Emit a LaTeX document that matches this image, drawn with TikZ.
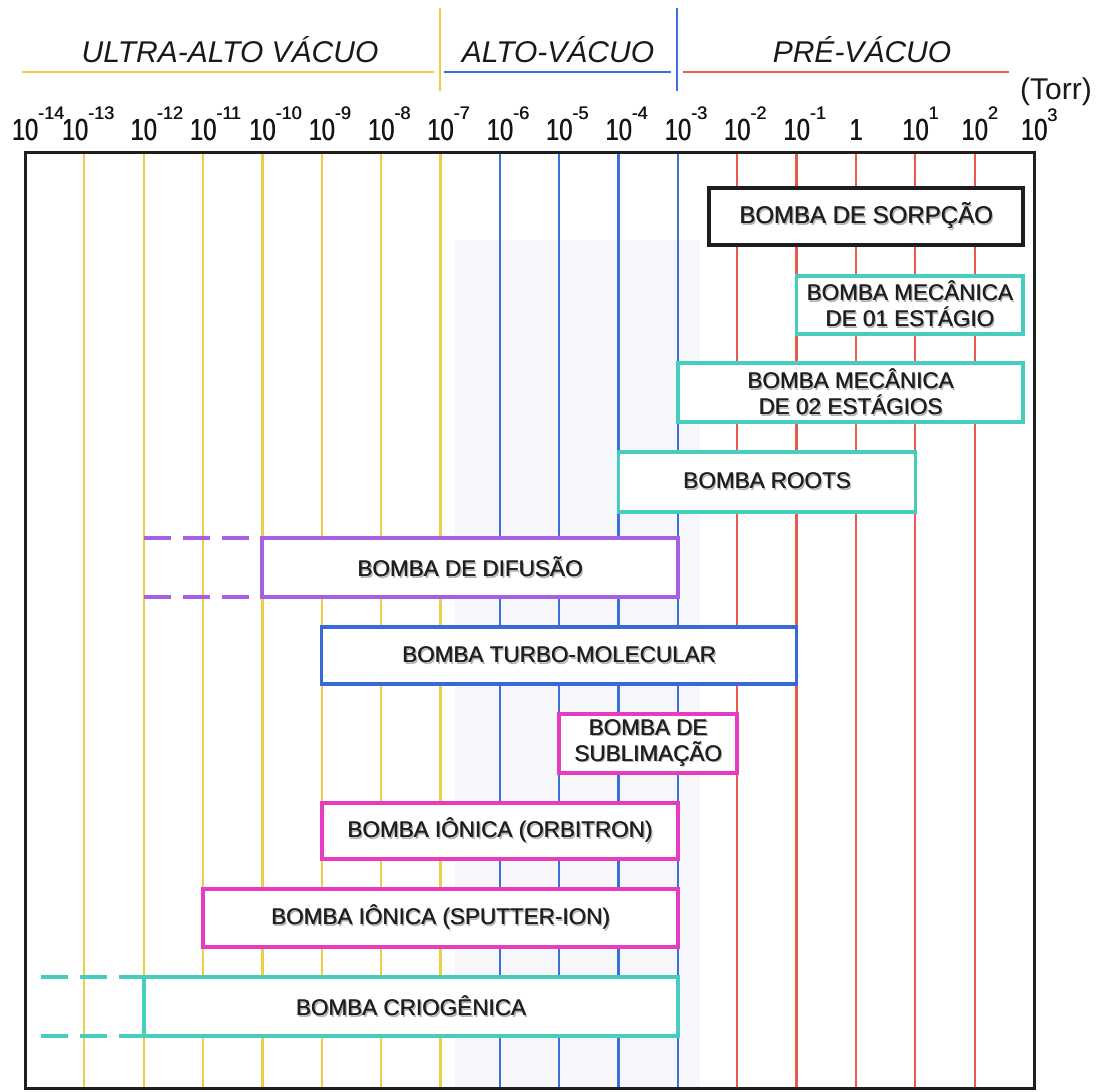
\documentclass[tikz,border=0pt]{standalone}
\usepackage{fontspec}
\setmainfont{Liberation Sans}
\usepackage{graphicx}
\definecolor{cyel}{RGB}{240,205,70}
\definecolor{cblu}{RGB}{60,110,220}
\definecolor{cred}{RGB}{235,90,80}
\definecolor{cteal}{RGB}{70,205,190}
\definecolor{cpurp}{RGB}{165,95,225}
\definecolor{cmag}{RGB}{230,60,195}
\definecolor{cturbo}{RGB}{55,105,215}
\definecolor{cframe}{RGB}{30,30,30}
\definecolor{cshade}{RGB}{245,247,251}
\newcommand\thk[1]{\makebox[0pt][l]{\hspace{0.5pt}#1}#1}
\newcommand\tenlab[1]{\thk{\scalebox{0.78}[1]{10}}\makebox[0pt][l]{\raisebox{21pt}{\fontsize{18}{18}\selectfont\thk{#1}}}}
\newcommand\shd[1]{\makebox[0pt][l]{\hspace{1.6pt}\raisebox{-1.6pt}{\textcolor{black!30}{#1}}}\makebox[0pt][l]{\hspace{0.5pt}#1}#1}
\begin{document}
\begin{tikzpicture}[x=1pt,y=-1pt,
  gridline/.style={line width=2.2pt},
  hdrline/.style={line width=2.6pt},
  hdrtext/.style={font=\fontsize{30}{30}\selectfont\itshape, text=black!90, anchor=base, inner sep=0},
  ticklab/.style={font=\fontsize{30.5}{30.5}\selectfont, text=black!92, anchor=base, inner sep=0},
  pbox/.style={draw, line width=3.4pt, fill=white, outer sep=0pt, inner sep=0pt, align=center,
     font=\fontsize{22.5}{26}\selectfont, text=black!88},
  dashext/.style={line width=3.4pt, dash pattern=on 27pt off 12pt}
]
\useasboundingbox (0,0) rectangle (1112,1092);
% faint background band
\fill[cshade] (455,240) rectangle (700,1088);
% grid lines
\foreach \e in {-13,...,2}{
  \pgfmathsetmacro{\xx}{25+(\e+14)*59.35}
  \ifnum\e<-6 \def\gc{cyel}\else\ifnum\e<-2 \def\gc{cblu}\else\def\gc{cred}\fi\fi
  \draw[gridline, draw=\gc] (\xx,152) -- (\xx,1088);
}
% frame
\draw[cframe, line width=3pt] (25,152) rectangle (1034,1088);
% header
\draw[hdrline, cyel] (22,72) -- (434,72);
\draw[hdrline, cyel] (440,8) -- (440,91);
\draw[hdrline, cblu] (444,72) -- (671,72);
\draw[hdrline, cblu] (677,8) -- (677,91);
\draw[hdrline, cred] (683,72) -- (1009,72);
\node[hdrtext] (uhv) at (230,62) {ULTRA-ALTO VÁCUO};
\node[hdrtext] (hv) at (558,62) {ALTO-VÁCUO};
\node[hdrtext] (pv) at (862,62) {PRÉ-VÁCUO};
\node[hdrtext, font=\fontsize{30}{30}\selectfont] (torr) at (1056,99) {(Torr)};
% tick labels
\node[ticklab] (t14) at (25,140) {\tenlab{-14}};
\node[ticklab] (t13) at (75,140) {\tenlab{-13}};
\foreach \e/\s in {-12/-12,-11/-11,-10/-10,-9/-9,-8/-8,-7/-7,-6/-6,-5/-5,-4/-4,-3/-3,-2/-2,-1/-1,1/1,2/2}{
  \pgfmathsetmacro{\xx}{25+(\e+14)*59.35}
  \node[ticklab] (t\s) at (\xx,140) {\tenlab{\s}};
}
\node[ticklab] (t3) at (1034,140) {\thk{\scalebox{0.78}[1]{10}}\makebox[0pt][l]{\raisebox{19pt}{\fontsize{18}{18}\selectfont\thk{3}}}};
\node[ticklab] (t0) at (855.9,140) {\thk{\scalebox{0.78}[1]{1}}};
% pump boxes
\node[pbox, draw=cframe, minimum width=314pt, minimum height=57pt, font=\fontsize{24}{26}\selectfont] (sorp) at (866,216.5) {\shd{BOMBA DE SORPÇÃO}};
\node[pbox, draw=cteal, minimum width=226.5pt, minimum height=58pt] (mec1) at (909.75,305) {\shd{BOMBA MECÂNICA}\\\shd{DE 01 ESTÁGIO}};
\node[pbox, draw=cteal, minimum width=345pt, minimum height=59pt] (mec2) at (850.4,392.5) {\shd{BOMBA MECÂNICA}\\\shd{DE 02 ESTÁGIOS}};
\node[pbox, draw=cteal, minimum width=297pt, minimum height=60pt] (roots) at (767,482) {\shd{BOMBA ROOTS}};
\node[pbox, draw=cpurp, minimum width=416pt, minimum height=59pt] (dif) at (470,567.5) {\shd{BOMBA DE DIFUSÃO}};
\node[pbox, draw=cturbo, minimum width=475pt, minimum height=57pt] (turbo) at (559.1,655.5) {\shd{BOMBA TURBO-MOLECULAR}};
\node[pbox, draw=cmag, minimum width=178pt, minimum height=59pt] (subl) at (648.1,743.5) {\shd{BOMBA DE}\\\shd{SUBLIMAÇÃO}};
\node[pbox, draw=cmag, minimum width=356pt, minimum height=56pt] (orb) at (499.9,831) {\shd{BOMBA IÔNICA (ORBITRON)}};
\node[pbox, draw=cmag, minimum width=475pt, minimum height=58pt] (sput) at (440.5,918) {\shd{BOMBA IÔNICA (SPUTTER-ION)}};
\node[pbox, draw=cteal, minimum width=534pt, minimum height=59pt] (cryo) at (411,1006.5) {\shd{BOMBA CRIOGÊNICA}};
% dashed extensions
\coordinate (difTop) at (143.7,538);
\coordinate (difBot) at (143.7,597);
\draw[dashext, cpurp] (difTop) -- (dif.north west);
\draw[dashext, cpurp] (difBot) -- (dif.south west);
\coordinate (cryoTop) at (41,977);
\coordinate (cryoBot) at (41,1036);
\draw[dashext, cteal] (cryoTop) -- (cryo.north west);
\draw[dashext, cteal] (cryoBot) -- (cryo.south west);
\end{tikzpicture}
\end{document}
